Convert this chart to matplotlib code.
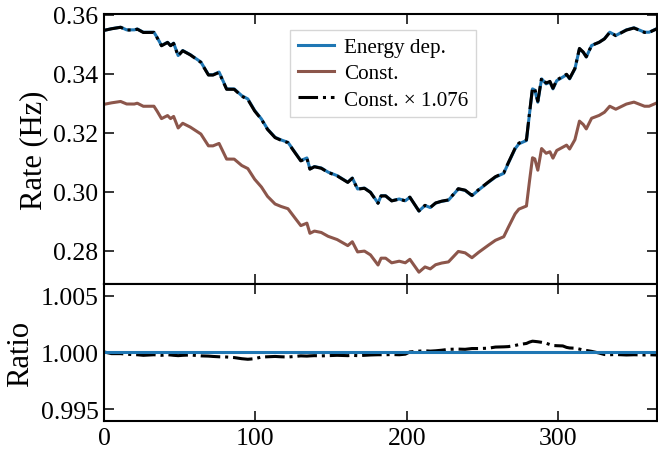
import numpy as np
import matplotlib
matplotlib.use('Agg')
import matplotlib.pyplot as plt

plt.rcParams['font.family'] = ['Liberation Serif', 'DejaVu Serif']

# day of year
days = [0, 5, 11, 15, 20, 22, 26, 33, 35, 38, 42, 44, 46, 49, 52, 57, 64, 69, 72, 76,
        81, 86, 91, 95, 99.5, 104, 108, 113, 117, 121.5, 126, 130, 134, 136, 139, 143.5,
        148, 154, 161, 164, 167.5, 172, 176, 181, 183, 186, 190, 195, 199, 202, 208, 212,
        215.5, 219, 223, 227.5, 234, 238.5, 243, 247.5, 254, 258.5, 264, 267, 271.5, 274,
        279, 281, 283, 284.5, 286.5, 289, 292, 294.5, 296.5, 299, 303, 305.5, 307.5, 311,
        314, 316.5, 318.5, 322, 327, 330.5, 334, 338, 345, 350, 357, 360, 365]

# energy dependent rate (Hz)
rate_energy = [0.3547, 0.3553, 0.3558, 0.3549, 0.3549, 0.3552, 0.3541, 0.3541, 0.3524, 0.3496,
               0.3507, 0.3496, 0.3504, 0.3462, 0.3479, 0.3465, 0.3440, 0.3397, 0.3397, 0.3406,
               0.3349, 0.3349, 0.3326, 0.3315, 0.3276, 0.3247, 0.3213, 0.3185, 0.3176, 0.3168,
               0.3135, 0.3106, 0.3115, 0.3078, 0.3086, 0.3081, 0.3067, 0.3055, 0.3033, 0.3047,
               0.3010, 0.3013, 0.2999, 0.2962, 0.2987, 0.2987, 0.2970, 0.2976, 0.2970, 0.2982,
               0.2935, 0.2954, 0.2947, 0.2962, 0.2968, 0.2972, 0.3010, 0.3005, 0.2987, 0.3007,
               0.3033, 0.3050, 0.3063, 0.3097, 0.3146, 0.3163, 0.3174, 0.3264, 0.3349, 0.3345,
               0.3304, 0.3383, 0.3366, 0.3372, 0.3349, 0.3377, 0.3389, 0.3397, 0.3383, 0.3417,
               0.3485, 0.3473, 0.3457, 0.3496, 0.3507, 0.3519, 0.3541, 0.3530, 0.3549, 0.3556,
               0.3541, 0.3541, 0.3553]

# (const x 1.076) / energy dep.
ratio = [1.00005, 0.99990, 0.99990, 0.99985, 0.99980, 0.99980, 0.99975, 0.99980, 0.99978, 0.99975,
         0.99980, 0.99978, 0.99975, 0.99972, 0.99975, 0.99978, 0.99970, 0.99968, 0.99965, 0.99962,
         0.99960, 0.99955, 0.99945, 0.99940, 0.99945, 0.99960, 0.99962, 0.99965, 0.99962, 0.99960,
         0.99965, 0.99970, 0.99968, 0.99970, 0.99972, 0.99970, 0.99972, 0.99975, 0.99972, 0.99975,
         0.99972, 0.99975, 0.99978, 0.99980, 0.99980, 0.99980, 0.99982, 0.99980, 0.99985, 1.00005,
         1.00012, 1.00015, 1.00012, 1.00015, 1.00020, 1.00028, 1.00030, 1.00028, 1.00035, 1.00035,
         1.00038, 1.00048, 1.00050, 1.00052, 1.00062, 1.00070, 1.00080, 1.00092, 1.00100, 1.00098,
         1.00095, 1.00090, 1.00082, 1.00070, 1.00062, 1.00060, 1.00058, 1.00045, 1.00040, 1.00038,
         1.00030, 1.00022, 1.00018, 1.00010, 0.99995, 0.99982, 0.99980, 0.99982, 0.99978, 0.99980,
         0.99978, 0.99980, 0.99978]

scale = 1.076
days = np.array(days)
rate_energy = np.array(rate_energy)
ratio = np.array(ratio)
rate_const = rate_energy * ratio / scale

blue = '#1f77b4'
brown = '#8c564b'

fig = plt.figure(figsize=(6.58, 4.52), dpi=100)
ax1 = fig.add_axes([0.158, 0.3695, 0.840, 0.5975])
ax2 = fig.add_axes([0.158, 0.0664, 0.840, 0.3031], sharex=ax1)

ax1.plot(days, rate_energy, color=blue, lw=2.2, label='Energy dep.')
ax1.plot(days, rate_const, color=brown, lw=2.2, label='Const.')
ax1.plot(days, rate_const * scale, color='black', lw=2.2, ls='-.', label='Const. × 1.076')

ax2.plot(days, ratio, color='black', lw=2.2, ls='-.')
ax2.plot(days, rate_energy / rate_energy, color=blue, lw=2.2)

ax1.set_xlim(0, 365)
ax1.set_ylim(0.2688, 0.3603)
ax1.set_yticks([0.28, 0.30, 0.32, 0.34, 0.36])
ax1.set_yticklabels(['0.28', '0.30', '0.32', '0.34', '0.36'])
ax2.set_ylim(0.99394, 1.00606)
ax2.set_yticks([0.995, 1.000, 1.005])
ax2.set_yticklabels(['0.995', '1.000', '1.005'])
ax2.set_xticks([0, 100, 200, 300])

for ax in (ax1, ax2):
    ax.tick_params(direction='in', top=True, right=True, length=7, width=1.1,
                   labelsize=18.5, pad=4)
    for s in ax.spines.values():
        s.set_linewidth(1.5)
ax1.tick_params(labelbottom=False)

ax1.set_ylabel('Rate (Hz)', fontsize=22)
ax2.set_ylabel('Ratio', fontsize=22)
fig.align_ylabels([ax1, ax2])

leg = ax1.legend(loc='upper left', bbox_to_anchor=(0.337, 0.94), fontsize=15.2,
                 fancybox=False, edgecolor='#cccccc', handlelength=1.7,
                 borderpad=0.35, labelspacing=0.3, handletextpad=0.5,
                 borderaxespad=0)
leg.get_frame().set_linewidth(1.0)

fig.savefig('out.png', dpi=100)
